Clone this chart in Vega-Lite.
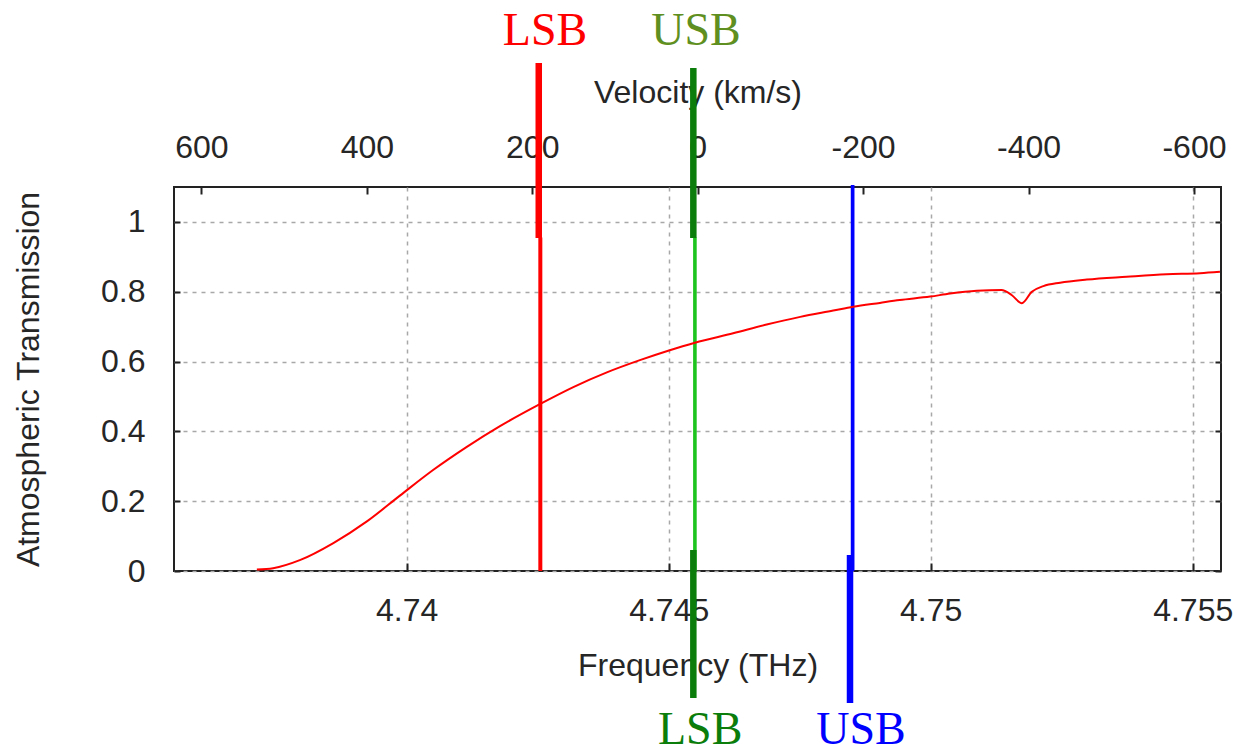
{
  "$schema": "https://vega.github.io/schema/vega-lite/v6.json",
  "width": 1047,
  "height": 384,
  "autosize": {"type": "none"},
  "padding": {"left": 174, "top": 187, "right": 14, "bottom": 178},
  "background": "white",
  "config": {
    "view": {"stroke": "#222222", "strokeWidth": 2},
    "axis": {
      "labelFont": "Liberation Sans",
      "titleFont": "Liberation Sans",
      "labelFontSize": 32,
      "titleFontSize": 32,
      "titleFontWeight": "normal",
      "labelColor": "#262626",
      "titleColor": "#262626",
      "domain": false,
      "tickColor": "#222222",
      "tickWidth": 2,
      "gridColor": "#a8a8a8",
      "gridDash": [4, 5],
      "gridWidth": 1.5,
      "gridOpacity": 1,
      "labelFlush": false,
      "labelOverlap": false,
      "labelBound": false
    }
  },
  "resolve": {"axis": {"x": "independent", "y": "independent"}},
  "layer": [
    {
      "data": {"values": [
        {"f": 4.74255, "y1": 0, "y2": 0.955}
      ]},
      "mark": {"type": "rule", "color": "#ff0000", "strokeWidth": 4, "clip": false},
      "encoding": {
        "x": {"field": "f", "type": "quantitative", "scale": {"domain": [4.735559, 4.75554], "nice": false, "zero": false}, "axis": null},
        "y": {"field": "y1", "type": "quantitative", "scale": {"domain": [0, 1.1], "nice": false, "zero": false}, "axis": null},
        "y2": {"field": "y2"}
      }
    },
    {
      "data": {"values": [
        {"f": 4.7455, "y1": 0, "y2": 0.955}
      ]},
      "mark": {"type": "rule", "color": "#1ec41e", "strokeWidth": 3.6, "clip": false},
      "encoding": {
        "x": {"field": "f", "type": "quantitative", "scale": {"domain": [4.735559, 4.75554], "nice": false, "zero": false}, "axis": null},
        "y": {"field": "y1", "type": "quantitative", "scale": {"domain": [0, 1.1], "nice": false, "zero": false}, "axis": null},
        "y2": {"field": "y2"}
      }
    },
    {
      "data": {"values": [
        {"f": 4.74851, "y1": 0, "y2": 1.106}
      ]},
      "mark": {"type": "rule", "color": "#0000ff", "strokeWidth": 3.7, "clip": false},
      "encoding": {
        "x": {"field": "f", "type": "quantitative", "scale": {"domain": [4.735559, 4.75554], "nice": false, "zero": false}, "axis": null},
        "y": {"field": "y1", "type": "quantitative", "scale": {"domain": [0, 1.1], "nice": false, "zero": false},
          "axis": {"orient": "right", "values": [0, 0.2, 0.4, 0.6, 0.8, 1], "labels": false, "title": null, "grid": false, "tickSize": -6}},
        "y2": {"field": "y2"}
      }
    },
    {
      "data": {"values": [
        {"f": 4.73714, "t": 0.004},
        {"f": 4.73745, "t": 0.008},
        {"f": 4.73796, "t": 0.031},
        {"f": 4.7386, "t": 0.08},
        {"f": 4.73924, "t": 0.142},
        {"f": 4.73987, "t": 0.216},
        {"f": 4.74051, "t": 0.29},
        {"f": 4.74114, "t": 0.355},
        {"f": 4.74178, "t": 0.415},
        {"f": 4.74254, "t": 0.478},
        {"f": 4.74318, "t": 0.527},
        {"f": 4.74382, "t": 0.569},
        {"f": 4.74445, "t": 0.604},
        {"f": 4.74499, "t": 0.631},
        {"f": 4.7455, "t": 0.654},
        {"f": 4.74623, "t": 0.681},
        {"f": 4.74687, "t": 0.706},
        {"f": 4.74751, "t": 0.728},
        {"f": 4.74814, "t": 0.746},
        {"f": 4.74852, "t": 0.757},
        {"f": 4.74903, "t": 0.768},
        {"f": 4.74941, "t": 0.776},
        {"f": 4.74999, "t": 0.786},
        {"f": 4.75037, "t": 0.795},
        {"f": 4.75088, "t": 0.803},
        {"f": 4.75135, "t": 0.805},
        {"f": 4.75155, "t": 0.79},
        {"f": 4.75174, "t": 0.767},
        {"f": 4.75193, "t": 0.8},
        {"f": 4.75215, "t": 0.816},
        {"f": 4.75247, "t": 0.826},
        {"f": 4.75298, "t": 0.835},
        {"f": 4.75374, "t": 0.843},
        {"f": 4.7545, "t": 0.85},
        {"f": 4.75514, "t": 0.853},
        {"f": 4.75552, "t": 0.857}
      ]},
      "mark": {"type": "line", "color": "#ff0000", "strokeWidth": 2, "interpolate": "monotone", "clip": false},
      "encoding": {
        "x": {"field": "f", "type": "quantitative", "scale": {"domain": [4.735559, 4.75554], "nice": false, "zero": false},
          "axis": {"orient": "bottom", "values": [4.74, 4.745, 4.75, 4.755], "format": "~g", "title": "Frequency (THz)",
            "tickSize": -8, "labelPadding": 32, "titlePadding": 24, "grid": true}},
        "y": {"field": "t", "type": "quantitative", "scale": {"domain": [0, 1.1], "nice": false, "zero": false},
          "axis": {"orient": "left", "values": [0, 0.2, 0.4, 0.6, 0.8, 1], "format": "~g", "title": "Atmospheric Transmission",
            "tickSize": -6, "labelPadding": 35, "titlePadding": 55, "grid": true}}
      }
    },
    {
      "data": {"values": [
        {"f": 4.74252, "y1": 0.954, "y2": 1.455}
      ]},
      "mark": {"type": "rule", "color": "#ff0000", "strokeWidth": 6.5, "strokeCap": "butt", "clip": false},
      "encoding": {
        "x": {"field": "f", "type": "quantitative", "scale": {"domain": [4.735559, 4.75554], "nice": false, "zero": false}, "axis": null},
        "y": {"field": "y1", "type": "quantitative", "scale": {"domain": [0, 1.1], "nice": false, "zero": false}, "axis": null},
        "y2": {"field": "y2"}
      }
    },
    {
      "data": {"values": [
        {"f": 4.74547, "y1": 0.954, "y2": 1.441},
        {"f": 4.74547, "y1": -0.364, "y2": 0.06}
      ]},
      "mark": {"type": "rule", "color": "#0a7d0a", "strokeWidth": 6.5, "strokeCap": "butt", "clip": false},
      "encoding": {
        "x": {"field": "f", "type": "quantitative", "scale": {"domain": [4.735559, 4.75554], "nice": false, "zero": false}, "axis": null},
        "y": {"field": "y1", "type": "quantitative", "scale": {"domain": [0, 1.1], "nice": false, "zero": false}, "axis": null},
        "y2": {"field": "y2"}
      }
    },
    {
      "data": {"values": [
        {"f": 4.74846, "y1": -0.378, "y2": 0.046}
      ]},
      "mark": {"type": "rule", "color": "#0000ff", "strokeWidth": 6.5, "strokeCap": "butt", "clip": false},
      "encoding": {
        "x": {"field": "f", "type": "quantitative", "scale": {"domain": [4.735559, 4.75554], "nice": false, "zero": false}, "axis": null},
        "y": {"field": "y1", "type": "quantitative", "scale": {"domain": [0, 1.1], "nice": false, "zero": false}, "axis": null},
        "y2": {"field": "y2"}
      }
    },
    {
      "data": {"values": [
        {"f": 4.74264, "ty": 1.507, "label": "LSB", "band": "top-lsb"},
        {"f": 4.74552, "ty": 1.507, "label": "USB", "band": "top-usb"},
        {"f": 4.7456, "ty": -0.496, "label": "LSB", "band": "bottom-lsb"},
        {"f": 4.74867, "ty": -0.496, "label": "USB", "band": "bottom-usb"}
      ]},
      "mark": {"type": "text", "font": "Liberation Serif", "fontSize": 46, "align": "center", "baseline": "alphabetic", "clip": false},
      "encoding": {
        "x": {"field": "f", "type": "quantitative", "scale": {"domain": [4.735559, 4.75554], "nice": false, "zero": false},
          "axis": {"orient": "top", "title": "Velocity (km/s)", "grid": false,
            "values": [4.736082, 4.739239, 4.742396, 4.745553, 4.74871, 4.751867, 4.755024],
            "labelExpr": "(round((4.745553 - datum.value) * 63351 / 200) * 200 < 0 ? '-' : '') + abs(round((4.745553 - datum.value) * 63351 / 200) * 200)",
            "tickSize": -7, "labelPadding": 30, "titlePadding": 22}},
        "y": {"field": "ty", "type": "quantitative", "scale": {"domain": [0, 1.1], "nice": false, "zero": false}, "axis": null},
        "text": {"field": "label"},
        "color": {"field": "band", "type": "nominal", "legend": null,
          "scale": {"domain": ["top-lsb", "top-usb", "bottom-lsb", "bottom-usb"], "range": ["#ff0000", "#5f8f20", "#0a7d0a", "#0000ff"]}}
      }
    }
  ]
}
